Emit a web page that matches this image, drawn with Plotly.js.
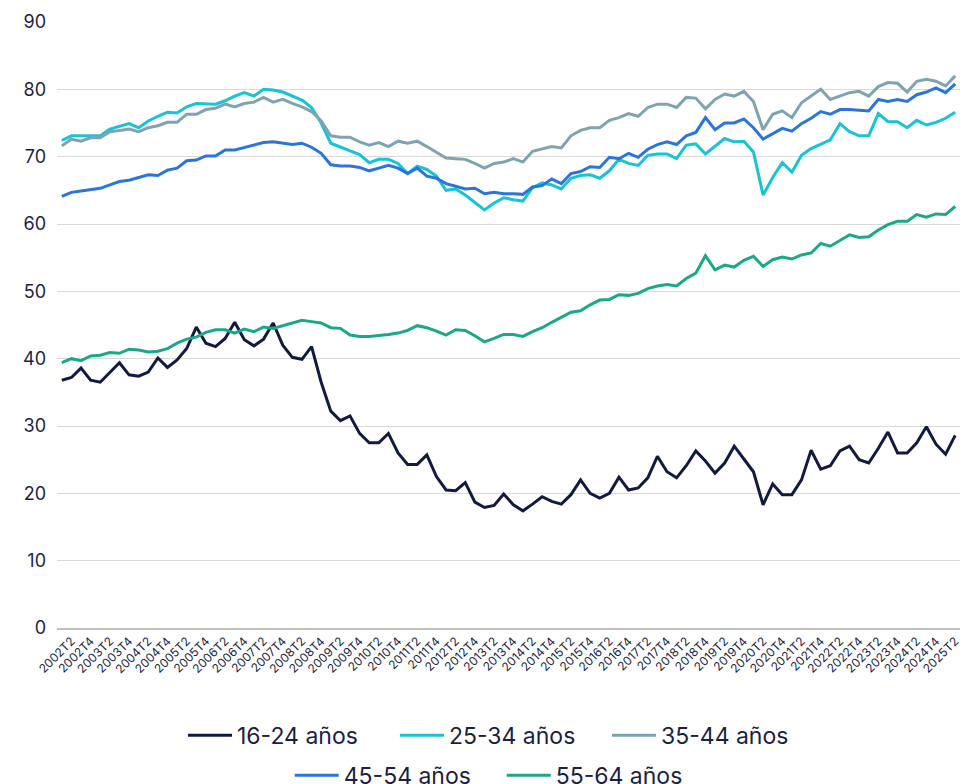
<!DOCTYPE html>
<html>
<head>
<meta charset="utf-8">
<script src="https://cdn.plot.ly/plotly-3.0.1.min.js"></script>
<style>html,body{margin:0;padding:0;background:#fff;}#chart{width:960px;height:784px;}</style>
</head>
<body>
<div id="chart"></div>
<script>
var categories = [
  "2002T1","2002T2","2002T3","2002T4","2003T1","2003T2","2003T3","2003T4",
  "2004T1","2004T2","2004T3","2004T4","2005T1","2005T2","2005T3","2005T4",
  "2006T1","2006T2","2006T3","2006T4","2007T1","2007T2","2007T3","2007T4",
  "2008T1","2008T2","2008T3","2008T4","2009T1","2009T2","2009T3","2009T4",
  "2010T1","2010T2","2010T3","2010T4","2011T1","2011T2","2011T3","2011T4",
  "2012T1","2012T2","2012T3","2012T4","2013T1","2013T2","2013T3","2013T4",
  "2014T1","2014T2","2014T3","2014T4","2015T1","2015T2","2015T3","2015T4",
  "2016T1","2016T2","2016T3","2016T4","2017T1","2017T2","2017T3","2017T4",
  "2018T1","2018T2","2018T3","2018T4","2019T1","2019T2","2019T3","2019T4",
  "2020T1","2020T2","2020T3","2020T4","2021T1","2021T2","2021T3","2021T4",
  "2022T1","2022T2","2022T3","2022T4","2023T1","2023T2","2023T3","2023T4",
  "2024T1","2024T2","2024T3","2024T4","2025T1","2025T2"
];

var seriesNames = ["16-24 años","25-34 años","35-44 años","45-54 años","55-64 años"];

var age16_24 = [36.8,37.2,38.6,36.8,36.5,37.9,39.4,37.6,37.4,38.0,
  40.1,38.7,39.8,41.5,44.7,42.3,41.8,43.0,45.4,42.8,
  41.9,42.9,45.3,42.0,40.2,39.9,41.8,36.5,32.2,30.8,
  31.5,28.9,27.5,27.5,28.9,26.0,24.3,24.3,25.7,22.5,
  20.5,20.4,21.6,18.7,17.9,18.2,19.9,18.3,17.4,18.4,
  19.5,18.8,18.4,19.8,22.0,20.0,19.3,20.0,22.4,20.5,
  20.8,22.3,25.5,23.2,22.3,24.1,26.3,24.8,23.0,24.5,
  27.0,25.1,23.2,18.3,21.4,19.8,19.8,22.0,26.4,23.6,
  24.1,26.3,27.0,25.0,24.5,26.7,29.1,26.0,26.0,27.5,
  29.9,27.3,25.8,28.6];

var age25_34 = [72.4,73.1,73.1,73.1,73.1,74.1,74.5,74.9,74.3,75.3,
  76.0,76.6,76.5,77.4,77.9,77.9,77.8,78.3,79.0,79.5,
  79.0,80.0,79.9,79.6,79.0,78.4,77.3,75.0,72.0,71.4,
  70.9,70.3,69.1,69.6,69.6,69.0,67.5,68.6,68.1,67.1,
  65.0,65.2,64.3,63.2,62.1,63.1,63.9,63.6,63.4,65.4,
  66.1,65.8,65.2,66.8,67.2,67.3,66.8,67.9,69.6,69.0,
  68.7,70.2,70.4,70.4,69.7,71.7,71.9,70.4,71.6,72.7,
  72.2,72.3,70.7,64.3,66.9,69.1,67.7,70.2,71.2,71.9,
  72.5,74.9,73.7,73.1,73.1,76.4,75.2,75.2,74.3,75.4,
  74.7,75.1,75.7,76.6];

var age35_44 = [71.6,72.6,72.3,72.8,72.8,73.7,73.9,74.1,73.7,74.3,
  74.6,75.1,75.1,76.3,76.3,77.0,77.2,77.8,77.4,77.9,
  78.1,78.8,78.1,78.5,77.9,77.4,76.7,75.3,73.1,72.9,
  72.9,72.2,71.7,72.1,71.5,72.3,72.0,72.3,71.5,70.6,
  69.8,69.7,69.6,69.0,68.3,69.0,69.2,69.7,69.2,70.8,
  71.1,71.5,71.3,73.1,73.9,74.3,74.3,75.4,75.8,76.4,
  76.0,77.3,77.8,77.8,77.3,78.8,78.7,77.1,78.5,79.3,
  79.0,79.7,78.2,74.0,76.3,76.8,75.8,78.0,79.0,80.0,
  78.5,79.0,79.5,79.7,79.0,80.4,81.0,80.9,79.6,81.2,
  81.5,81.2,80.5,82.0];

var age45_54 = [64.1,64.7,64.9,65.1,65.3,65.8,66.3,66.5,66.9,67.3,
  67.2,68.0,68.3,69.4,69.5,70.1,70.1,71.0,71.0,71.4,
  71.7,72.1,72.2,72.0,71.8,72.0,71.4,70.5,68.8,68.6,
  68.6,68.4,67.9,68.3,68.7,68.3,67.5,68.3,67.1,66.8,
  66.0,65.6,65.2,65.3,64.5,64.7,64.5,64.5,64.4,65.5,
  65.7,66.7,66.0,67.5,67.8,68.5,68.4,69.9,69.7,70.5,
  69.9,71.1,71.8,72.2,71.8,73.1,73.6,75.8,74.0,75.0,
  75.0,75.6,74.3,72.6,73.4,74.2,73.8,74.9,75.7,76.7,
  76.3,77.0,77.0,76.9,76.8,78.5,78.2,78.5,78.2,79.2,
  79.6,80.2,79.5,80.8];

var age55_64 = [39.4,40.0,39.7,40.4,40.5,40.9,40.8,41.4,41.3,41.0,
  41.1,41.5,42.3,42.9,43.2,43.9,44.3,44.3,43.8,44.4,
  44.0,44.7,44.5,44.9,45.2,45.7,45.5,45.3,44.6,44.5,
  43.5,43.3,43.3,43.4,43.6,43.8,44.2,44.9,44.6,44.1,
  43.5,44.3,44.2,43.4,42.5,43.0,43.6,43.6,43.3,44.0,
  44.6,45.4,46.1,46.9,47.1,48.0,48.7,48.8,49.5,49.4,
  49.7,50.4,50.8,51.0,50.8,51.9,52.7,55.3,53.2,53.9,
  53.6,54.6,55.2,53.7,54.7,55.1,54.8,55.4,55.7,57.1,
  56.7,57.5,58.4,58.0,58.1,59.1,59.9,60.4,60.4,61.4,
  61.0,61.5,61.4,62.6];

var yTickVals = [0,10,20,30,40,50,60,70,80,90];

var colors = ["#121a40","#17c4d5","#7fa4b1","#2a75dc","#1aa987"];
var navy = "#1b1f45";
var FONT = "Inter, 'Noto Sans', sans-serif";

var tickCats = categories.filter(function(c){ return /T2$|T4$/.test(c); });

var allSeries = [age16_24, age25_34, age35_44, age45_54, age55_64];
var traces = allSeries.map(function(vals, i){
  return {
    type: "scatter",
    mode: "lines",
    x: categories,
    y: vals,
    name: seriesNames[i],
    line: {color: colors[i], width: 3},
    legend: i < 3 ? "legend" : "legend2",
    hoverinfo: "skip"
  };
});

var legendBase = {
  orientation: "h",
  xanchor: "center",
  yanchor: "middle",
  font: {family: FONT, size: 23, color: navy},
  itemwidth: 44,
  entrywidth: 153,
  entrywidthmode: "pixels",
  bgcolor: "rgba(0,0,0,0)",
  borderwidth: 0,
  traceorder: "normal"
};

var layout = {
  width: 960,
  height: 784,
  margin: {l: 57, r: 0, t: 22, b: 156, autoexpand: false},
  paper_bgcolor: "#ffffff",
  plot_bgcolor: "#ffffff",
  font: {family: FONT, color: navy},
  showlegend: true,
  xaxis: {
    type: "category",
    categoryorder: "array",
    categoryarray: categories,
    range: [-0.5, categories.length - 0.5],
    tickmode: "array",
    tickvals: tickCats,
    ticktext: tickCats,
    tickangle: -45,
    tickfont: {family: FONT, size: 12, color: navy},
    showgrid: false,
    zeroline: false,
    showline: true,
    linecolor: "#bfbfbf",
    linewidth: 1.5,
    ticks: "",
    automargin: false
  },
  yaxis: {
    range: [0, 90],
    tickmode: "array",
    tickvals: yTickVals,
    tickfont: {family: FONT, size: 18, color: navy},
    gridcolor: "#d9d9d9",
    gridwidth: 1,
    zeroline: false,
    showline: false,
    ticks: "",
    ticklabelstandoff: 10,
    automargin: false
  },
  legend: Object.assign({}, legendBase, {x: 0.4917, y: -0.177}),
  legend2: Object.assign({}, legendBase, {x: 0.4925, y: -0.243})
};

Plotly.newPlot("chart", traces, layout, {staticPlot: true, displayModeBar: false});
</script>
</body>
</html>
